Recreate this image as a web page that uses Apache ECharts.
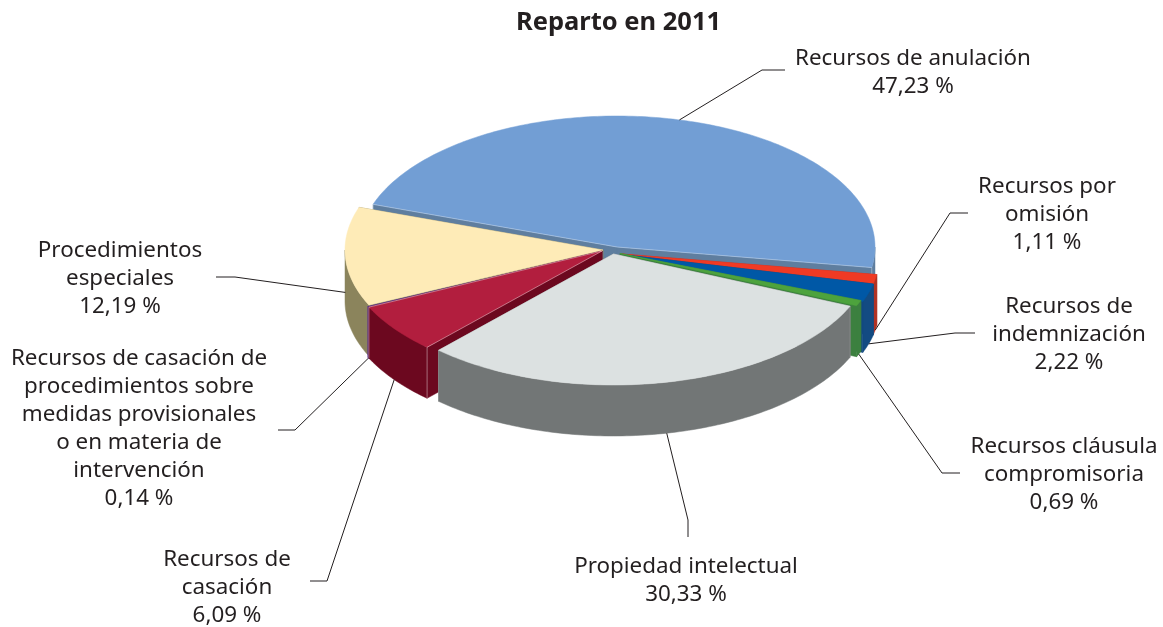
<!DOCTYPE html>
<html><head><meta charset="utf-8">
<style>html,body{margin:0;padding:0;background:#fff}#c{width:1163px;height:627px}</style>
<script src="https://cdn.jsdelivr.net/npm/echarts@6/dist/echarts.min.js"></script>
</head><body><div id="c"></div>
<script>
// ---- data ----
const categories = ['Recursos de anulación','Recursos por omisión','Recursos de indemnización','Recursos cláusula compromisoria','Propiedad intelectual','Recursos de casación','Recursos de casación de procedimientos sobre medidas provisionales o en materia de intervención','Procedimientos especiales'];
const shares = [47.23,1.11,2.22,0.69,30.33,6.09,0.14,12.19];
const labelLines = [
  ['Recursos de anulación'],
  ['Recursos por','omisión'],
  ['Recursos de','indemnización'],
  ['Recursos cláusula','compromisoria'],
  ['Propiedad intelectual'],
  ['Recursos de','casación'],
  ['Recursos de casación de','procedimientos sobre','medidas provisionales','o en materia de','intervención'],
  ['Procedimientos','especiales']
];
// ---- style / layout ----
const topColors  = ['#729ED4','#F03A24','#0058A6','#4DA33D','#DCE1E1','#B21E3E','#5B2F8F','#FEEBB7'];
const wallColors = ['#5F7E9F','#B03224','#134B82','#3C803F','#727676','#6C081F','#5A2E90','#8B845C'];
const drawOrder  = [0,1,2,3,7,6,5,4]; // rank: painter order, back to front
const edgeGlow   = [0.3,0,0,0,0.15,0.4,0,0];
const explodeDX  = [5,10,10,8,1.5,-10,-10,-9];
const explodeDY  = [-3,4,4.5,3.5,4,1,1.5,0];
const leaderDrop = [0,1,1,1,1,1,1,0.7];
const elbowX = [762,950,955,942,688,327,295,235];
const elbowY = [70,213,333,473,520,581,430,277];
const tailX  = [785,968,975,960,688,310,278,216];
const tailY  = [70,213,333,473,537,581,430,277];
const textX  = [913,1047,1069,1064,686,227,139,120];
const textY  = [45,173,293,433,553,546,345,237];
const CX=612, CY=250, RX=258, RY=131, DEPTH=51, START=161;
const FONT='"Noto Sans"', TEXTCOL='#231F20';

const total = shares.reduce((a,b)=>a+b,0);
function fmt(v){return v.toFixed(2).replace('.',',')+' %';}
function pt(cx,cy,deg,dy){const r=deg*Math.PI/180;return [cx+RX*Math.cos(r),cy-RY*Math.sin(r)+(dy||0)];}
function arc(cx,cy,a,b,dy){const out=[],n=Math.max(2,Math.ceil(Math.abs(a-b)));for(let i=0;i<=n;i++)out.push(pt(cx,cy,a+(b-a)*i/n,dy));return out;}

function renderItem(params,api){
  const i=params.dataIndex, v=api.value(0);
  let before=0; for(let k=0;k<i;k++) before+=shares[k];
  const a=START-before/total*360, b=a-v/total*360;
  const cx=CX+explodeDX[i], cy=CY+explodeDY[i];
  const rank=drawOrder[i]*10;
  const apex=[cx,cy], apexLow=[cx,cy+DEPTH];
  const children=[];
  const poly=(points,fill,z)=>children.push({type:'polygon',z2:z,shape:{points},style:{fill,stroke:fill,lineWidth:0.5}});
  const line=(points,stroke,z,w)=>children.push({type:'polyline',z2:z,shape:{points},style:{fill:null,stroke,lineWidth:w||1}});
  const pa=pt(cx,cy,a), pb=pt(cx,cy,b);
  // radial side walls
  poly([apex,pa,pt(cx,cy,a,DEPTH),apexLow],wallColors[i],rank);
  poly([apex,pb,pt(cx,cy,b,DEPTH),apexLow],wallColors[i],rank);
  // outer wall: the visible part of the arc only
  for(const shift of [0,-360]){
    const hi=Math.min(a+shift,0), lo=Math.max(b+shift,-180);
    if(hi>lo){
      const up=arc(cx,cy,hi,lo,0), dn=arc(cx,cy,hi,lo,DEPTH).reverse();
      poly(up.concat(dn),wallColors[i],rank+1);
    }
  }
  // top face
  poly([apex].concat(arc(cx,cy,a,b,0)),topColors[i],rank+2);
  // soft highlights on the edges
  if(edgeGlow[i]>0){
    const glow='rgba(255,255,255,'+edgeGlow[i]+')';
    line([pa,pt(cx,cy,a,DEPTH)],glow,rank+3);
    line([pb,pt(cx,cy,b,DEPTH)],glow,rank+3);
    line([pa,apex,pb],glow,rank+3);
  }
  // leader and label
  const mid=(a+b)/2, s=pt(cx,cy,mid,DEPTH*leaderDrop[i]);
  line([s,[elbowX[i],elbowY[i]],[tailX[i],tailY[i]]],TEXTCOL,200,1);
  children.push({type:'text',z2:210,style:{
    text:labelLines[i].concat(fmt(v)).join('\n'),
    x:textX[i],y:textY[i],align:'center',verticalAlign:'top',
    font:'22.4px '+FONT,lineHeight:28,fill:TEXTCOL}});
  return {type:'group',children};
}

const chart=echarts.init(document.getElementById('c'),null,{renderer:'canvas'});
chart.setOption({
  animation:false,
  backgroundColor:'#fff',
  title:{text:'Reparto en 2011',left:613.5,top:5,textAlign:'center',
    textStyle:{fontFamily:FONT,fontWeight:'bold',fontSize:25.5,color:TEXTCOL}},
  series:[{type:'custom',coordinateSystem:'none',renderItem,
    data:shares.map((v,i)=>({name:categories[i],value:[v]})),silent:true}]
});
</script></body></html>
